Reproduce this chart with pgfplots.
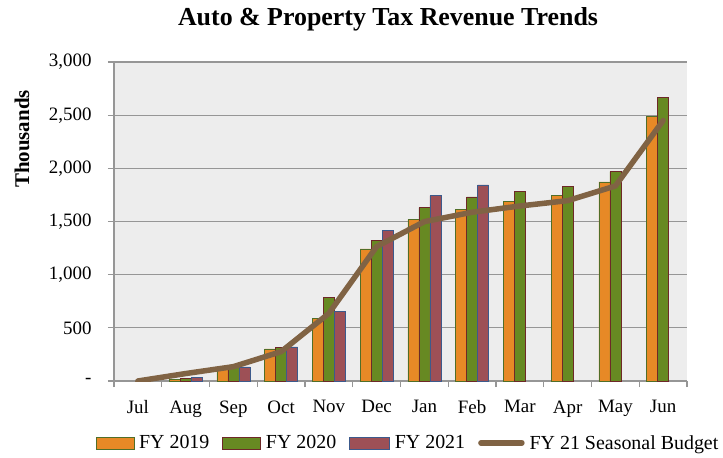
\documentclass[border=0pt]{standalone}
\usepackage{fontspec}
\setmainfont{Liberation Serif}
\usepackage{pgfplots}
\pgfplotsset{compat=1.18}
\definecolor{cOr}{RGB}{231,137,38}
\definecolor{cGr}{RGB}{103,137,34}
\definecolor{cRd}{RGB}{157,80,86}
\definecolor{cLn}{RGB}{128,99,68}
\definecolor{bOr}{RGB}{80,110,40}
\definecolor{bGr}{RGB}{110,40,40}
\definecolor{bRd}{RGB}{60,90,140}
\definecolor{grd}{RGB}{150,150,150}
\pgfplotsset{
  barleg/.style={legend image code/.code={\draw[##1] (0bp,-6bp) rectangle (#1,6bp);}},
  lineleg/.style={legend image code/.code={\draw[##1] (3bp,0bp) -- (44bp,0bp);}},
}
\begin{document}
\begin{tikzpicture}
\useasboundingbox (-114bp,-77bp) rectangle (609bp,381bp);
\begin{axis}[
  at={(0,0)}, anchor=south west,
  scale only axis, width=573bp, height=319bp,
  xmin=-0.5, xmax=11.5, ymin=0, ymax=3000,
  axis x line*=bottom, axis y line*=left,
  axis line style={grd, line width=1.2bp},
  axis background/.style={fill=black!7},
  xtick={0,...,11},
  xticklabels={Jul,Aug,Sep,Oct,Nov,Dec,Jan,Feb,Mar,Apr,May,Jun},
  minor xtick={-0.5,0.5,...,11.5},
  major x tick style={draw=none},
  minor x tick style={grd, line width=1.2bp},
  minor tick length=6bp,
  ytick={0,500,...,3000},
  yticklabels={-,500,{1,000},{1,500},{2,000},{2,500},{3,000}},
  major tick length=6bp,
  tick align=outside,
  y tick style={grd, line width=1.2bp},
  ymajorgrids, grid style={grd, line width=1.2bp},
  tick label style={font=\fontsize{19}{22}\selectfont},
  xticklabel style={yshift=-10bp},
  yticklabel style={xshift=-13bp},
  legend style={draw=none, fill=none, at={(0.513,-0.194)}, anchor=center,
    font=\fontsize{20}{23}\selectfont, legend columns=-1,
    /tikz/every even column/.append style={column sep=11bp},
    /tikz/every odd column/.append style={column sep=3bp}},
  legend cell align=left,
]
\addplot[ybar, bar width=11bp, bar shift=-11bp, fill=cOr, draw=bOr, line width=0.6bp, barleg=38bp]
  coordinates {(1,15) (2,133) (3,301) (4,590) (5,1242) (6,1517) (7,1614) (8,1687) (9,1743) (10,1872) (11,2486)};
\addlegendentry{FY 2019}
\addplot[ybar, bar width=11bp, bar shift=0bp, fill=cGr, draw=bGr, line width=0.6bp, barleg=38bp]
  coordinates {(1,25) (2,150) (3,313) (4,787) (5,1326) (6,1630) (7,1731) (8,1784) (9,1828) (10,1969) (11,2668)};
\addlegendentry{FY 2020}
\addplot[ybar, bar width=11bp, bar shift=11bp, fill=cRd, draw=bRd, line width=0.6bp, barleg=40bp]
  coordinates {(1,35) (2,133) (3,320) (4,658) (5,1417) (6,1743) (7,1844)};
\addlegendentry{FY 2021}
\addplot[sharp plot, no marks, cLn, line width=5.5bp, line cap=round, line join=round, lineleg]
  coordinates {(0,0) (1,70) (2,135) (3,276) (4,636) (5,1264) (6,1499) (7,1587) (8,1646) (9,1696) (10,1834) (11,2449)};
\addlegendentry{FY 21 Seasonal Budget}
\end{axis}
\node[font=\bfseries\fontsize{26}{29}\selectfont] at (274bp,362bp) {Auto \& Property Tax Revenue Trends};
\node[font=\bfseries\fontsize{21}{24}\selectfont, rotate=90] at (-92bp,242bp) {Thousands};
\end{tikzpicture}
\end{document}
